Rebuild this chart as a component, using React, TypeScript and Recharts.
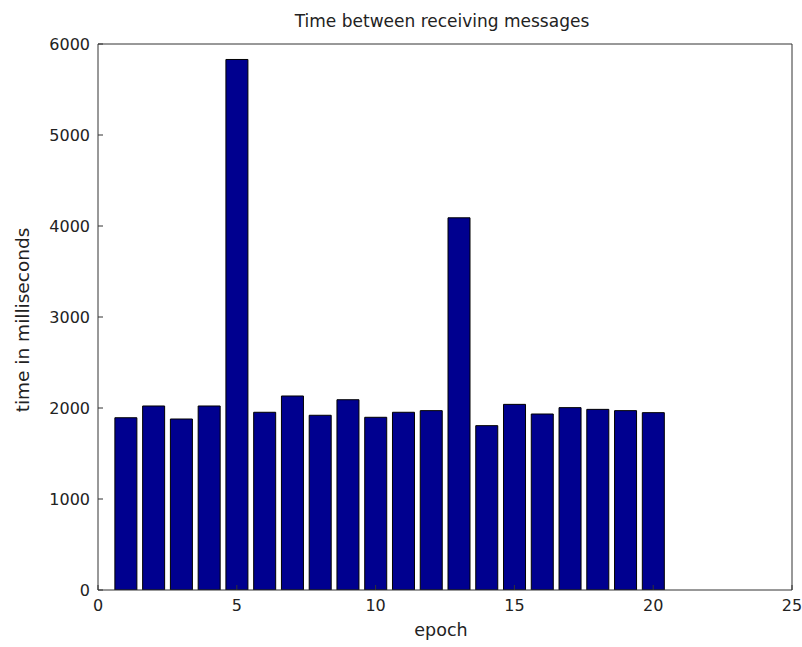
import React from 'react';
import { BarChart, Bar, XAxis, YAxis } from 'recharts';

const epochs = [1, 2, 3, 4, 5, 6, 7, 8, 9, 10, 11, 12, 13, 14, 15, 16, 17, 18, 19, 20];
const times = [1893, 2022, 1879, 2022, 5830, 1953, 2132, 1920, 2091, 1898, 1953, 1971, 4090, 1806, 2040, 1934, 2004, 1985, 1971, 1949];
const xTicks = [0, 5, 10, 15, 20, 25];
const yTicks = [0, 1000, 2000, 3000, 4000, 5000, 6000];

const data = epochs.map((e, i) => ({ epoch: e, time: times[i] }));

const FONT = 'DejaVu Sans, sans-serif';
const tickStyle = { fill: '#222', fontSize: 16, fontFamily: FONT };

export default function App() {
  return (
    <div style={{ position: 'absolute', left: 0, top: 0, width: 802, height: 647, background: '#fff' }}>
      <BarChart width={802} height={647} data={data} margin={{ top: 43, right: 9, left: 0, bottom: 0 }}>
        <XAxis
          dataKey="epoch"
          type="number"
          domain={[0, 25]}
          ticks={xTicks}
          interval={0}
          allowDataOverflow
          height={57}
          tickSize={-5}
          tickMargin={15}
          stroke="#333"
          tick={tickStyle}
        />
        <XAxis
          xAxisId="top"
          dataKey="epoch"
          orientation="top"
          type="number"
          domain={[0, 25]}
          ticks={xTicks}
          interval={0}
          allowDataOverflow
          height={1}
          tickSize={-5}
          stroke="#333"
          tick={false}
        />
        <YAxis
          domain={[0, 6000]}
          ticks={yTicks}
          interval={0}
          allowDataOverflow
          width={98}
          tickSize={-5}
          tickMargin={13}
          stroke="#333"
          tick={tickStyle}
        />
        <YAxis
          yAxisId="right"
          dataKey="time"
          orientation="right"
          domain={[0, 6000]}
          ticks={yTicks}
          interval={0}
          allowDataOverflow
          width={1}
          tickSize={-5}
          stroke="#333"
          tick={false}
        />
        <Bar dataKey="time" fill="#00008F" stroke="#000" strokeWidth={1} barSize={22} isAnimationActive={false} />
      </BarChart>
      <div style={{ position: 'absolute', left: 242, width: 400, top: 11, textAlign: 'center', whiteSpace: 'nowrap', fontFamily: FONT, fontSize: 17, color: '#222' }}>
        Time between receiving messages
      </div>
      <div style={{ position: 'absolute', left: 391, width: 100, top: 620, textAlign: 'center', fontFamily: FONT, fontSize: 17.5, color: '#222' }}>
        epoch
      </div>
      <div style={{ position: 'absolute', left: 22, top: 320, width: 0, height: 0 }}>
        <div style={{ position: 'absolute', transform: 'translate(-50%, -50%) rotate(-90deg)', whiteSpace: 'nowrap', fontFamily: FONT, fontSize: 18.5, color: '#222' }}>
          time in milliseconds
        </div>
      </div>
    </div>
  );
}
